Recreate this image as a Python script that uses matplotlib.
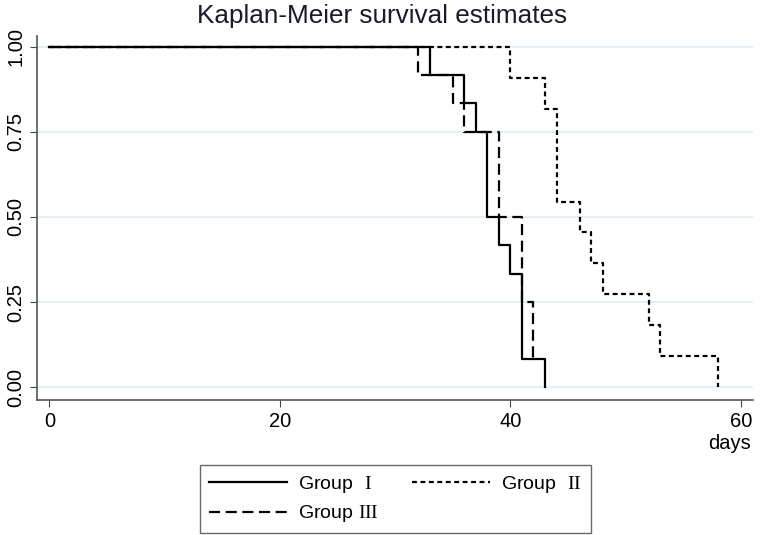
import numpy as np
import matplotlib.pyplot as plt

plt.rcParams['font.family'] = ['Liberation Sans', 'DejaVu Sans']
plt.rcParams['mathtext.fontset'] = 'custom'
plt.rcParams['mathtext.sf'] = 'Liberation Sans'
plt.rcParams['mathtext.rm'] = 'Liberation Sans'
plt.rcParams['mathtext.tt'] = 'Liberation Serif'

# step change times (days) and survival after each step
g1_t = [0, 33, 36, 37, 38, 39, 40, 41, 43]
g1_s = [1.0, 11/12, 10/12, 9/12, 6/12, 5/12, 4/12, 1/12, 0.0]

g2_t = [0, 40, 43, 44, 46, 47, 48, 52, 53, 58]
g2_s = [1.0, 10/11, 9/11, 6/11, 5/11, 4/11, 3/11, 2/11, 1/11, 0.0]

g3_t = [0, 32, 35, 36, 39, 41, 42]
g3_s = [1.0, 11/12, 10/12, 9/12, 6/12, 3/12, 1/12]

labels = [r"$\mathsf{Group}\ \ \mathtt{I}$", r"$\mathsf{Group}\ \ \mathtt{II}$",
          r"$\mathsf{Group}\ \mathtt{III}$"]
xticks = [0, 20, 40, 60]
yticks = [0.0, 0.25, 0.5, 0.75, 1.0]

fig = plt.figure(figsize=(7.6, 5.35), dpi=100)
ax = fig.add_axes([0.0487, 0.252, 0.942, 0.681])

ax.step(g1_t, g1_s, where="post", color="black", lw=1.6, label=labels[0])
ax.step(g2_t, g2_s, where="post", color="black", lw=1.6, linestyle=(0, (2.2, 1.6)), label=labels[1])
ax.step(g3_t, g3_s, where="post", color="black", lw=1.6, linestyle=(0, (5, 2.5)), label=labels[2])

ax.set_xlim(-1.08, 61.04)
ax.set_ylim(-0.038, 1.032)
ax.set_xticks(xticks)
ax.set_yticks(yticks)
ax.set_yticklabels(["%.2f" % v for v in yticks], rotation=90, va="center")
ax.tick_params(labelsize=14.5, length=5, colors="#444444", labelcolor="black")
ax.yaxis.grid(True, color="#dfeef3", lw=1.3)
ax.set_axisbelow(True)
for s in ["top", "right"]:
    ax.spines[s].set_visible(False)
for s in ["left", "bottom"]:
    ax.spines[s].set_color("#555555")
    ax.spines[s].set_linewidth(1.2)

fig.text(0.503, 1 - 16/535, "Kaplan-Meier survival estimates", ha="center", va="center",
         fontsize=18.8, color="#1a1a2e")
ax.text(60.9, -0.18, "days", ha="right", va="baseline", fontsize=14.5)

# legend order: I, II on first row, III on second
h, l = ax.get_legend_handles_labels()
leg = fig.legend([h[0], h[2], h[1]], [l[0], l[2], l[1]], ncol=2, loc="upper left",
                 bbox_to_anchor=(200/760, 1 - 465/535), borderaxespad=0,
                 fontsize=14, frameon=True, fancybox=False, edgecolor="#444444",
                 handlelength=4.0, handletextpad=0.6, borderpad=0.45,
                 labelspacing=0.45, columnspacing=1.7)
leg.get_frame().set_linewidth(1.0)

fig.savefig("out.png")
